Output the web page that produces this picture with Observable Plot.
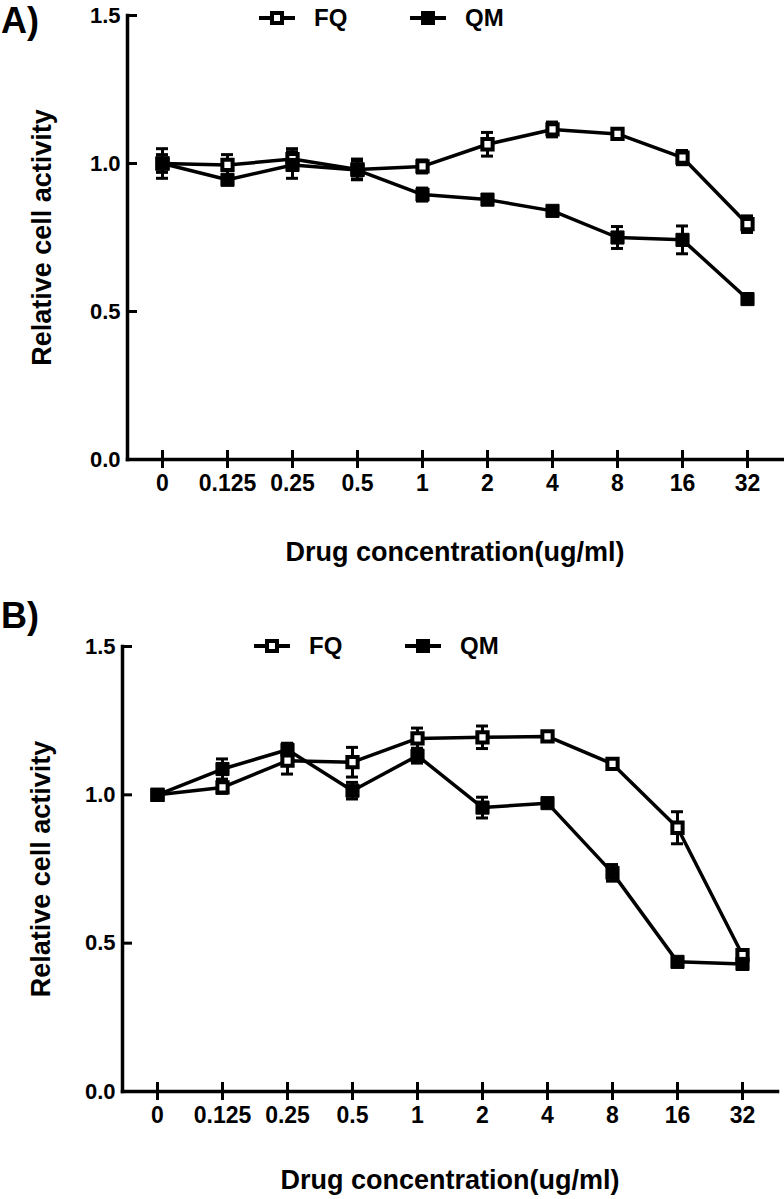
<!DOCTYPE html>
<html>
<head>
<meta charset="utf-8">
<script src="https://cdn.jsdelivr.net/npm/d3@7"></script>
<script src="https://cdn.jsdelivr.net/npm/@observablehq/plot@0.6"></script>
<style>
  html, body { margin: 0; padding: 0; background: white; }
  #wrap { position: relative; width: 784px; height: 1199px; font-family: "Liberation Sans", Arial, sans-serif; font-weight: bold; color: black; }
  .panel { position: absolute; left: 0; }
  .plabel { position: absolute; font-size: 36px; line-height: 1.1; font-weight: bold; }
  .leg { position: absolute; display: flex; align-items: center; height: 26px; font-size: 24px; font-weight: bold; }
  .leg svg { display: block; }
</style>
</head>
<body>
<div id="wrap">
  <div class="panel" id="pa" style="top:0"></div>
  <div class="panel" id="pb" style="top:580px"></div>
  <div class="plabel" style="left:1px; top:1px">A)</div>
  <div class="plabel" style="left:1px; top:596px">B)</div>
</div>
<script>
// ---- data ----
const concentrations = ["0", "0.125", "0.25", "0.5", "1", "2", "4", "8", "16", "32"];
const seriesNames = ["FQ", "QM"];
const yTicks = [0, 0.5, 1.0, 1.5];
const yLabel = "Relative cell activity";
const xLabel = "Drug concentration(ug/ml)";

// Panel A
const aFQMean = [1.00, 0.995, 1.015, 0.98, 0.99, 1.065, 1.115, 1.100, 1.020, 0.795];
const aFQErr  = [0.05, 0.035, 0.035, 0.035, 0.022, 0.04, 0.025, 0.017, 0.024, 0.028];
const aQMMean = [1.00, 0.945, 0.995, 0.978, 0.895, 0.878, 0.840, 0.750, 0.742, 0.542];
const aQMErr  = [0.03, 0.015, 0.045, 0.03, 0.022, 0.017, 0.013, 0.037, 0.047, 0.010];

// Panel B
const bFQMean = [1.00, 1.025, 1.115, 1.110, 1.190, 1.194, 1.197, 1.104, 0.889, 0.460];
const bFQErr  = [0.01, 0.02, 0.045, 0.05, 0.035, 0.038, 0.010, 0.010, 0.054, 0.012];
const bQMMean = [1.00, 1.087, 1.152, 1.014, 1.132, 0.957, 0.972, 0.737, 0.437, 0.430];
const bQMErr  = [0.01, 0.034, 0.022, 0.028, 0.025, 0.035, 0.010, 0.028, 0.010, 0.015];

function rowsFor(fqM, fqE, qmM, qmE) {
  const rows = [];
  concentrations.forEach((c, i) => {
    rows.push({conc: c, series: seriesNames[0], v: fqM[i], e: fqE[i]});
    rows.push({conc: c, series: seriesNames[1], v: qmM[i], e: qmE[i]});
  });
  return rows;
}

function makePlot(rows, o) {
  const W = 784;
  const frameW = W - o.ml - o.mr;
  return Plot.plot({
    width: W,
    height: o.height,
    marginLeft: o.ml, marginRight: o.mr, marginTop: o.mt, marginBottom: o.mb,
    style: {fontFamily: '"Liberation Sans", Arial, sans-serif', fontWeight: "bold", color: "black", background: "white", overflow: "visible"},
    x: {type: "point", domain: concentrations, padding: 0.5},
    y: {domain: [0, 1.5]},
    marks: [
      Plot.frame({anchor: "left", strokeWidth: 3.5}),
      Plot.frame({anchor: "bottom", strokeWidth: 3.5}),
      // inward y ticks
      Plot.ruleY(yTicks.filter(t => t > 0), {y: d => d, insetRight: frameW - 10, strokeWidth: 3}),
      Plot.axisY({ticks: yTicks, tickSize: 0, tickPadding: 7, tickFormat: d => d.toFixed(1), fontSize: 22, label: null}),
      // x ticks crossing the axis
      Plot.ruleX(concentrations, {x: d => d, y1: 0, y2: 0, insetTop: -9, insetBottom: -9, strokeWidth: 3}),
      Plot.axisX({tickSize: 0, tickPadding: 15, fontSize: 23, label: null}),
      Plot.ruleX(rows, {x: "conc", y1: d => d.v - d.e, y2: d => d.v + d.e, strokeWidth: 3}),
      Plot.ruleY(rows, {y: d => d.v + d.e, x1: "conc", x2: "conc", insetLeft: -6, insetRight: -6, strokeWidth: 3}),
      Plot.ruleY(rows, {y: d => d.v - d.e, x1: "conc", x2: "conc", insetLeft: -6, insetRight: -6, strokeWidth: 3}),
      Plot.line(rows, {x: "conc", y: "v", z: "series", stroke: "black", strokeWidth: 3.5}),
      Plot.dot(rows, {filter: d => d.series === "FQ", x: "conc", y: "v", symbol: "square", r: 5.8, fill: "white", stroke: "black", strokeWidth: 4}),
      Plot.dot(rows, {filter: d => d.series === "QM", x: "conc", y: "v", symbol: "square", r: 7.4, fill: "black", stroke: "black", strokeWidth: 1}),
      Plot.text([yLabel], {frameAnchor: "left", dx: o.ydx, rotate: -90, textAnchor: "middle", lineAnchor: "middle", fontSize: 27, fontWeight: "bold"}),
      Plot.text([xLabel], {frameAnchor: "bottom", dy: o.tdy, textAnchor: "middle", lineAnchor: "middle", fontSize: 27, fontWeight: "bold"})
    ]
  });
}

document.getElementById("pa").append(
  makePlot(rowsFor(aFQMean, aFQErr, aQMMean, aQMErr), {height: 580, ml: 127, mr: 2, mt: 15, mb: 121, ydx: -85, tdy: 93})
);
document.getElementById("pb").append(
  makePlot(rowsFor(bFQMean, bFQErr, bQMMean, bQMErr), {height: 619, ml: 122, mr: 7, mt: 66, mb: 108, ydx: -81, tdy: 89})
);

// ---- legends ----
function swatch(filled) {
  const ns = "http://www.w3.org/2000/svg";
  const s = document.createElementNS(ns, "svg");
  s.setAttribute("width", 38); s.setAttribute("height", 20);
  const l = document.createElementNS(ns, "line");
  l.setAttribute("x1", 1); l.setAttribute("x2", 37); l.setAttribute("y1", 10); l.setAttribute("y2", 10);
  l.setAttribute("stroke", "black"); l.setAttribute("stroke-width", 4);
  const r = document.createElementNS(ns, "rect");
  if (filled) {
    r.setAttribute("x", 12); r.setAttribute("y", 3); r.setAttribute("width", 14); r.setAttribute("height", 14);
    r.setAttribute("fill", "black");
  } else {
    r.setAttribute("x", 14); r.setAttribute("y", 5); r.setAttribute("width", 10); r.setAttribute("height", 10);
    r.setAttribute("fill", "white"); r.setAttribute("stroke", "black"); r.setAttribute("stroke-width", 4);
  }
  s.append(l, r);
  return s;
}
function legendItem(name, filled, left, top) {
  const d = document.createElement("div");
  d.className = "leg";
  d.style.left = left + "px"; d.style.top = top + "px";
  d.append(swatch(filled));
  const t = document.createElement("span");
  t.textContent = name;
  t.style.marginLeft = "18px";
  d.append(t);
  document.getElementById("wrap").append(d);
}
legendItem(seriesNames[0], false, 258, 5);
legendItem(seriesNames[1], true, 409, 5);
legendItem(seriesNames[0], false, 253, 633);
legendItem(seriesNames[1], true, 404, 633);
</script>
</body>
</html>
